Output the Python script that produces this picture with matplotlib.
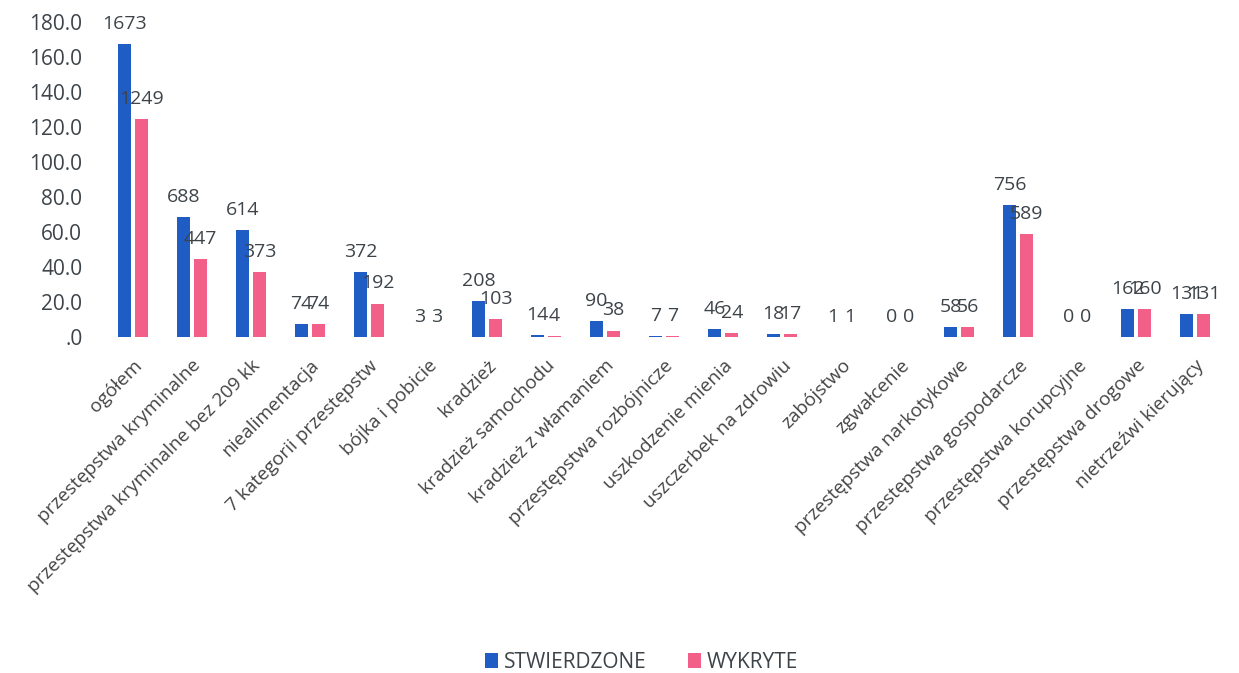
import numpy as np
import matplotlib.pyplot as plt

# ── DATA ──────────────────────────────────────────────────────────────────────
categories = ['ogółem', 'przestępstwa kryminalne', 'przestępstwa kryminalne bez 209 kk',
              'niealimentacja', '7 kategorii przestępstw', 'bójka i pobicie', 'kradzież',
              'kradzież samochodu', 'kradzież z włamaniem', 'przestępstwa rozbójnicze',
              'uszkodzenie mienia', 'uszczerbek na zdrowiu', 'zabójstwo', 'zgwałcenie',
              'przestępstwa narkotykowe', 'przestępstwa gospodarcze', 'przestępstwa korupcyjne',
              'przestępstwa drogowe', 'nietrzeźwi kierujący']

# counts shown as labels
stw_labels = [1673, 688, 614, 74, 372, 3, 208, 14, 90, 7, 46, 18, 1, 0, 58, 756, 0, 162, 131]
wyk_labels = [1249, 447, 373, 74, 192, 3, 103, 4, 38, 7, 24, 17, 1, 0, 56, 589, 0, 160, 131]

# bar heights
stw_height = [167.3, 68.8, 61.4, 7.4, 37.2, 0.3, 20.8, 1.4, 9.0, 0.7, 4.6, 1.8, 0.1, 0.0, 5.8, 75.6, 0.0, 16.2, 13.1]
wyk_height = [124.9, 44.7, 37.3, 7.4, 19.2, 0.3, 10.3, 0.4, 3.8, 0.7, 2.4, 1.7, 0.1, 0.0, 5.6, 58.9, 0.0, 16.0, 13.1]

yticks = [0, 20, 40, 60, 80, 100, 120, 140, 160, 180]
ytick_labels = ['.0', '20.0', '40.0', '60.0', '80.0', '100.0', '120.0', '140.0', '160.0', '180.0']

# ── PLOT ──────────────────────────────────────────────────────────────────────
plt.rcParams['font.family'] = ['Open Sans', 'DejaVu Sans']

blue = '#1f5cc4'
pink = '#f2608a'
txt = '#3d4449'

fig = plt.figure(figsize=(12.39, 6.73), dpi=100)
ax = fig.add_axes([0.081, 0.499, 0.910, 0.468])

x = np.arange(len(categories))
w = 0.22
b1 = ax.bar(x - 0.145, stw_height, w, color=blue, label='STWIERDZONE')
b2 = ax.bar(x + 0.145, wyk_height, w, color=pink, label='WYKRYTE')

for bars, labs in [(b1, stw_labels), (b2, wyk_labels)]:
    for rect, lab in zip(bars, labs):
        ax.annotate(str(lab), (rect.get_x() + rect.get_width() / 2, rect.get_height()),
                    xytext=(0, 8), textcoords='offset points', ha='center', va='bottom',
                    fontsize=14, color=txt, annotation_clip=False)

ax.set_ylim(0, 180)
ax.set_xlim(-0.55, len(categories) - 0.45)
ax.set_yticks(yticks)
ax.set_yticklabels(ytick_labels, fontsize=15, color=txt)
ax.set_xticks(x)
ax.set_xticklabels(categories, rotation=45, ha='right', rotation_mode='anchor',
                   fontsize=13.7, color='#444444')
ax.tick_params(axis='y', length=0, pad=13)
ax.tick_params(axis='x', length=0, pad=14)
for s in ax.spines.values():
    s.set_visible(False)

fig.legend(handles=[b1, b2], loc='center', bbox_to_anchor=(0.518, 0.016), ncol=2,
           frameon=False, fontsize=15, handlelength=0.6, handleheight=0.8,
           handletextpad=0.3, columnspacing=2.0, labelcolor=txt)

fig.savefig('out.png', dpi=100)
